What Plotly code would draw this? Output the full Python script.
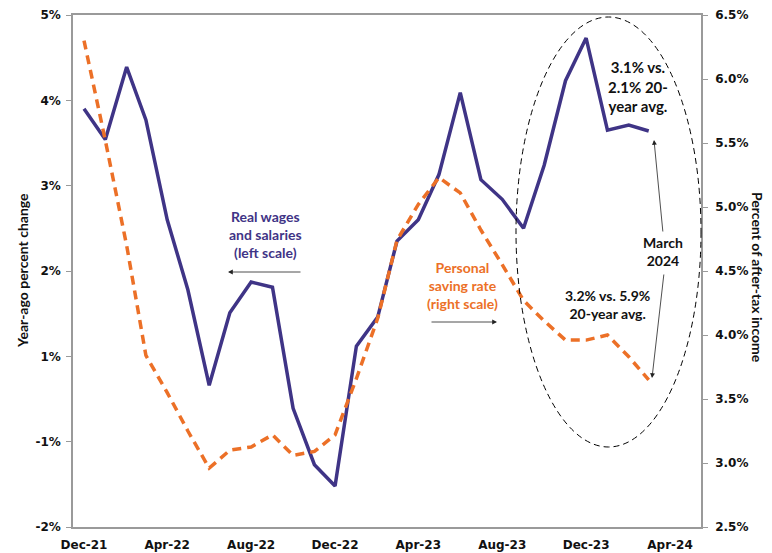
import plotly.graph_objects as go

# ---- data ----
months = ["2021-12-01", "2022-01-01", "2022-02-01", "2022-03-01", "2022-04-01", "2022-05-01",
          "2022-06-01", "2022-07-01", "2022-08-01", "2022-09-01", "2022-10-01", "2022-11-01",
          "2022-12-01", "2023-01-01", "2023-02-01", "2023-03-01", "2023-04-01", "2023-05-01",
          "2023-06-01", "2023-07-01", "2023-08-01", "2023-09-01", "2023-10-01", "2023-11-01",
          "2023-12-01", "2024-01-01", "2024-02-01", "2024-03-01"]

real_wages = [3.90, 3.54, 4.39, 3.77, 2.60, 1.78, 0.66, 1.51, 1.87, 1.81, 0.39, -0.27,
              -0.52, 1.12, 1.46, 2.35, 2.60, 3.13, 4.09, 3.07, 2.84, 2.50, 3.24, 4.23,
              4.73, 3.65, 3.71, 3.64]

saving_rate = [6.30, 5.52, 4.70, 3.84, 3.55, 3.25, 2.96, 3.10, 3.125, 3.22, 3.06, 3.09,
               3.22, 3.66, 4.13, 4.74, 5.02, 5.23, 5.11, 4.82, 4.55, 4.27, 4.11, 3.96,
               3.96, 4.00, 3.83, 3.65]

x_tick_vals = ["2021-12-01", "2022-04-01", "2022-08-01", "2022-12-01",
               "2023-04-01", "2023-08-01", "2023-12-01", "2024-04-01"]
x_tick_text = ["Dec-21", "Apr-22", "Aug-22", "Dec-22", "Apr-23", "Aug-23", "Dec-23", "Apr-24"]

left_tick_vals = [-1, 0, 1, 2, 3, 4, 5]
left_tick_text = ["-2%", "-1%", "1%", "2%", "3%", "4%", "5%"]

right_tick_vals = [2.5, 3.0, 3.5, 4.0, 4.5, 5.0, 5.5, 6.0, 6.5]
right_tick_text = ["2.5%", "3.0%", "3.5%", "4.0%", "4.5%", "5.0%", "5.5%", "6.0%", "6.5%"]

PURPLE = "#3F3486"
ORANGE = "#EC7027"
FRAME = "#9a9a9a"

W, H = 772, 553
L, R, T, B = 73, 71, 15, 26
PW, PH = W - L - R, H - T - B


def px(xp):
    return (xp - L) / PW


def py(yp):
    return (H - B - yp) / PH


fig = go.Figure()
fig.add_trace(go.Scatter(x=months, y=real_wages, mode="lines", yaxis="y",
                         line=dict(color=PURPLE, width=3.5), showlegend=False))
fig.add_trace(go.Scatter(x=months, y=saving_rate, mode="lines", yaxis="y2",
                         line=dict(color=ORANGE, width=3.5, dash="9px,6px"), showlegend=False))

tickfont = dict(family="DejaVu Sans", size=12, color="#111", weight="bold")

fig.update_layout(
    width=W, height=H,
    margin=dict(l=L, r=R, t=T, b=B, autoexpand=False),
    paper_bgcolor="white", plot_bgcolor="white",
    xaxis=dict(type="date", range=["2021-11-15", "2024-05-16"],
               tickvals=x_tick_vals, ticktext=x_tick_text, tickfont=tickfont,
               showgrid=False, zeroline=False, showline=True, linecolor=FRAME,
               linewidth=1.5, mirror=True, ticks="outside", ticklen=6,
               tickcolor="rgba(0,0,0,0)", automargin=False),
    yaxis=dict(range=[-1, 5], tickvals=left_tick_vals, ticktext=left_tick_text,
               tickfont=tickfont, showgrid=False, zeroline=False, showline=True,
               linecolor=FRAME, linewidth=1.5, ticks="outside", ticklen=5,
               tickcolor=FRAME, tickwidth=1, automargin=False, ticklabelstandoff=3),
    yaxis2=dict(range=[2.5, 6.5], tickvals=right_tick_vals, ticktext=right_tick_text,
                tickfont=tickfont, overlaying="y", side="right", showgrid=False,
                zeroline=False, showline=True, linecolor=FRAME, linewidth=1.5,
                ticks="outside", ticklen=5, tickcolor=FRAME, tickwidth=1,
                automargin=False, ticklabelstandoff=5),
)

# ellipse
fig.add_shape(type="circle", xref="paper", yref="paper",
              x0=px(516), x1=px(701), y0=py(447), y1=py(17),
              line=dict(color="black", width=1, dash="6px,4px"))

ann_font = dict(family="Lato", size=14, color="#111", weight="bold")
annotations = [
    dict(text="Year-ago percent change", x=px(22), y=py(271), textangle=-90,
         font=dict(family="Lato", size=14, color="#111", weight="bold")),
    dict(text="Percent of after-tax income", x=px(758), y=py(277), textangle=90,
         font=dict(family="Lato", size=14, color="#111", weight="bold")),
    dict(text="3.1% vs.<br>2.1% 20-<br>year avg.", x=px(638), y=py(86),
         font=dict(family="Lato", size=15, color="#111", weight="bold")),
    dict(text="March<br>2024", x=px(663), y=py(251), font=ann_font),
    dict(text="3.2% vs. 5.9%<br>20-year avg.", x=px(607), y=py(304), font=ann_font),
    dict(text="Real wages<br>and salaries<br>(left scale)", x=px(265), y=py(234),
         font=dict(family="Lato", size=14, color=PURPLE, weight="bold")),
    dict(text="Personal<br>saving rate<br>(right scale)", x=px(462), y=py(285),
         font=dict(family="Lato", size=14, color=ORANGE, weight="bold")),
]
for a in annotations:
    fig.add_annotation(xref="paper", yref="paper", showarrow=False,
                       xanchor="center", yanchor="middle", **a)

arrows = [
    (228, 272, 74, 0),
    (497, 322, -67, 0),
    (654, 140, 9, 93),
    (652, 378, 12, -105),
]
for hx, hy, ax, ay in arrows:
    fig.add_annotation(xref="paper", yref="paper", x=px(hx), y=py(hy), ax=ax, ay=ay,
                       text="", showarrow=True, arrowhead=2, arrowsize=1.2,
                       arrowwidth=0.8, arrowcolor="#222")

fig.write_html("out.html", config={"displayModeBar": False},
               post_script="document.body.style.margin='0';document.body.style.overflow='hidden';")
